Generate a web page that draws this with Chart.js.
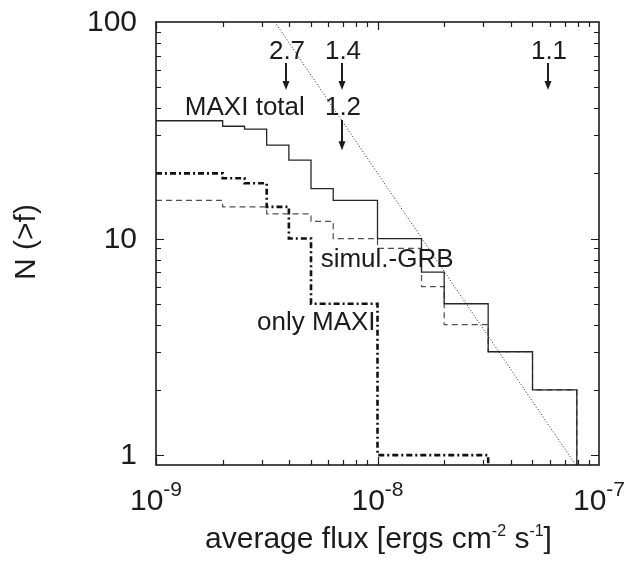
<!doctype html>
<html lang="en">
  <head>
    <meta charset="utf-8">
    <title>N(&gt;f) of MAXI bursts</title>
    <style>
      body { margin: 0; background: #fff; }
      #fluxChart { display: block; }
    </style>
  </head>
  <body>
    <canvas id="fluxChart" width="636" height="564"></canvas>

    <script src="https://cdn.jsdelivr.net/npm/chart.js"></script>
    <script>
      // cumulative counts, each value held from its flux to the next one (0 = off the bottom)
      const totalFlux = [1e-9, 2e-9, 2.51e-9, 3.16e-9, 3.98e-9, 5.01e-9, 6.31e-9, 1e-8, 1.58e-8, 2e-8, 3.16e-8, 5.01e-8, 7.94e-8]
      const totalN = [35, 33, 32, 27, 23, 17, 15, 10, 7, 5, 3, 2, 0]

      const simulFlux = [1e-9, 2e-9, 3.16e-9, 5.01e-9, 6.31e-9, 1e-8, 1.58e-8, 2e-8, 3.16e-8, 5.01e-8, 7.94e-8]
      const simulN = [15, 14, 13, 12, 10, 9, 6, 4, 3, 2, 0]

      const onlyFlux = [1e-9, 2e-9, 2.51e-9, 3.16e-9, 3.98e-9, 5.01e-9, 1e-8, 3.16e-8]
      const onlyN = [20, 19, 18, 14, 10, 5, 1, 0]

      // reference slope line (N ~ f^-1.5)
      const slopeFlux = [3.44e-9, 7.85e-8]
      const slopeN = [100, 0.9]

      // arrows with their labels
      const arrowText = ['2.7', '1.4', '1.1', '1.2']
      const arrowFlux = [3.85e-9, 6.89e-9, 5.87e-8, 6.89e-9]
      const arrowTailN = [64.7, 64.7, 64.7, 35.3]
      const arrowTipN = [48.5, 48.5, 48.5, 25.6]
      const arrowTextN = [72.9, 72.9, 72.9, 40.3]

      // curve names, placed by their left edge
      const curveNames = ['MAXI total', 'simul.-GRB', 'only MAXI']
      const nameFlux = [1.35e-9, 5.54e-9, 2.86e-9]
      const nameN = [40.1, 7.96, 4.07]

      const xMajor = [1e-9, 1e-8, 1e-7]
      const xExponents = ['-9', '-8', '-7']
      const yMajor = [1, 10, 100]
      const yLabels = ['1', '10', '100']

      const ink = '#1c1c1c'
      const font = '"Liberation Sans", Arial, Helvetica, sans-serif'
      const FLOOR_N = 0.5

      function steps(fluxes, counts) {
        return fluxes.map((f, i) => ({ x: f, y: counts[i] > 0 ? counts[i] : FLOOR_N }))
      }

      const axesAndText = {
        id: 'axesAndText',
        afterDatasetsDraw(chart) {
          const ctx = chart.ctx
          const { left, right, top, bottom } = chart.chartArea
          const xs = chart.scales.x
          const ys = chart.scales.y
          ctx.save()
          ctx.strokeStyle = ink
          ctx.fillStyle = ink

          // mirrored inward ticks
          ctx.lineWidth = 1.2
          ctx.beginPath()
          xMajor.slice(0, -1).forEach(base => {
            for (let m = 1; m <= 9; m++) {
              const px = Math.round(xs.getPixelForValue(base * m)) + 0.5
              const len = m === 1 ? 8 : 5
              ctx.moveTo(px, bottom); ctx.lineTo(px, bottom - len)
              ctx.moveTo(px, top); ctx.lineTo(px, top + len)
            }
          })
          yMajor.slice(0, -1).forEach(base => {
            for (let m = 1; m <= 9; m++) {
              const py = Math.round(ys.getPixelForValue(base * m)) + 0.5
              const len = m === 1 ? 8 : 5
              ctx.moveTo(left, py); ctx.lineTo(left + len, py)
              ctx.moveTo(right, py); ctx.lineTo(right - len, py)
            }
          })
          ctx.stroke()

          ctx.lineWidth = 1.6
          ctx.strokeRect(left, top, right - left, bottom - top)

          // y tick labels
          ctx.font = '30px ' + font
          ctx.textAlign = 'right'
          ctx.textBaseline = 'middle'
          yMajor.forEach((v, i) => {
            ctx.fillText(yLabels[i], left - 19, ys.getPixelForValue(v) + 1)
          })

          // x tick labels as 10^n
          ctx.textAlign = 'left'
          ctx.textBaseline = 'alphabetic'
          xMajor.forEach((v, i) => {
            const px = xs.getPixelForValue(v)
            ctx.font = '30px ' + font
            const wBase = ctx.measureText('10').width
            ctx.font = '21px ' + font
            const wExp = ctx.measureText(xExponents[i]).width
            const x0 = px - (wBase + wExp) / 2
            ctx.font = '30px ' + font
            ctx.fillText('10', x0, bottom + 45)
            ctx.font = '21px ' + font
            ctx.fillText(xExponents[i], x0 + wBase, bottom + 31)
          })

          // x axis title with superscripts
          const parts = [['average flux [ergs cm', false], ['-2', true], [' s', false], ['-1', true], [']', false]]
          let total = 0
          parts.forEach(([t, sup]) => {
            ctx.font = (sup ? '16px ' : '30px ') + font
            total += ctx.measureText(t).width
          })
          let cx = (left + right) / 2 - total / 2 + 1
          parts.forEach(([t, sup]) => {
            ctx.font = (sup ? '16px ' : '30px ') + font
            ctx.fillText(t, cx, sup ? 536 : 548)
            cx += ctx.measureText(t).width
          })

          // y axis title
          ctx.save()
          ctx.translate(27, 242)
          ctx.rotate(-Math.PI / 2)
          ctx.font = '30px ' + font
          ctx.textAlign = 'center'
          ctx.textBaseline = 'middle'
          ctx.fillText('N (>f)', 0, 0)
          ctx.restore()

          // arrows
          ctx.lineWidth = 2
          arrowText.forEach((t, i) => {
            const px = Math.round(xs.getPixelForValue(arrowFlux[i]))
            const y1 = ys.getPixelForValue(arrowTailN[i])
            const y2 = ys.getPixelForValue(arrowTipN[i])
            ctx.beginPath()
            ctx.moveTo(px, y1)
            ctx.lineTo(px, y2 - 6)
            ctx.stroke()
            ctx.beginPath()
            ctx.moveTo(px - 3.5, y2 - 9)
            ctx.lineTo(px + 3.5, y2 - 9)
            ctx.lineTo(px, y2)
            ctx.closePath()
            ctx.fill()
            ctx.font = '26px ' + font
            ctx.textAlign = 'center'
            ctx.textBaseline = 'middle'
            ctx.fillText(t, px + 1, ys.getPixelForValue(arrowTextN[i]))
          })

          // curve names
          ctx.font = '26px ' + font
          ctx.textAlign = 'left'
          ctx.textBaseline = 'middle'
          curveNames.forEach((t, i) => {
            ctx.fillText(t, xs.getPixelForValue(nameFlux[i]), ys.getPixelForValue(nameN[i]))
          })
          ctx.restore()
        }
      }

      const config = {
        type: 'line',
        data: {
          datasets: [
            {
              label: 'MAXI total',
              data: steps(totalFlux, totalN),
              stepped: 'before',
              borderColor: '#262626',
              borderWidth: 1.3
            },
            {
              label: 'simul.-GRB',
              data: steps(simulFlux, simulN),
              stepped: 'before',
              borderColor: '#505050',
              borderWidth: 1.2,
              borderDash: [6, 4]
            },
            {
              label: 'only MAXI',
              data: steps(onlyFlux, onlyN),
              stepped: 'before',
              borderColor: '#111',
              borderWidth: 2.6,
              borderDash: [6, 3, 2, 3]
            },
            {
              label: 'slope',
              data: slopeFlux.map((f, i) => ({ x: f, y: slopeN[i] })),
              borderColor: '#222',
              borderWidth: 1,
              borderDash: [1, 2]
            }
          ]
        },
        options: {
          responsive: false,
          animation: false,
          events: [],
          layout: { padding: { left: 156, right: 37, top: 22, bottom: 99 } },
          elements: { point: { radius: 0 }, line: { fill: false, tension: 0 } },
          datasets: { line: { clip: 0 } },
          scales: {
            x: { type: 'logarithmic', min: 1e-9, max: 1e-7, display: false },
            y: { type: 'logarithmic', min: 0.9, max: 100, display: false }
          },
          plugins: {
            legend: { display: false },
            tooltip: { enabled: false }
          }
        },
        plugins: [axesAndText]
      }

      var fluxChart = new Chart(document.getElementById('fluxChart'), config)
    </script>
  </body>
</html>
